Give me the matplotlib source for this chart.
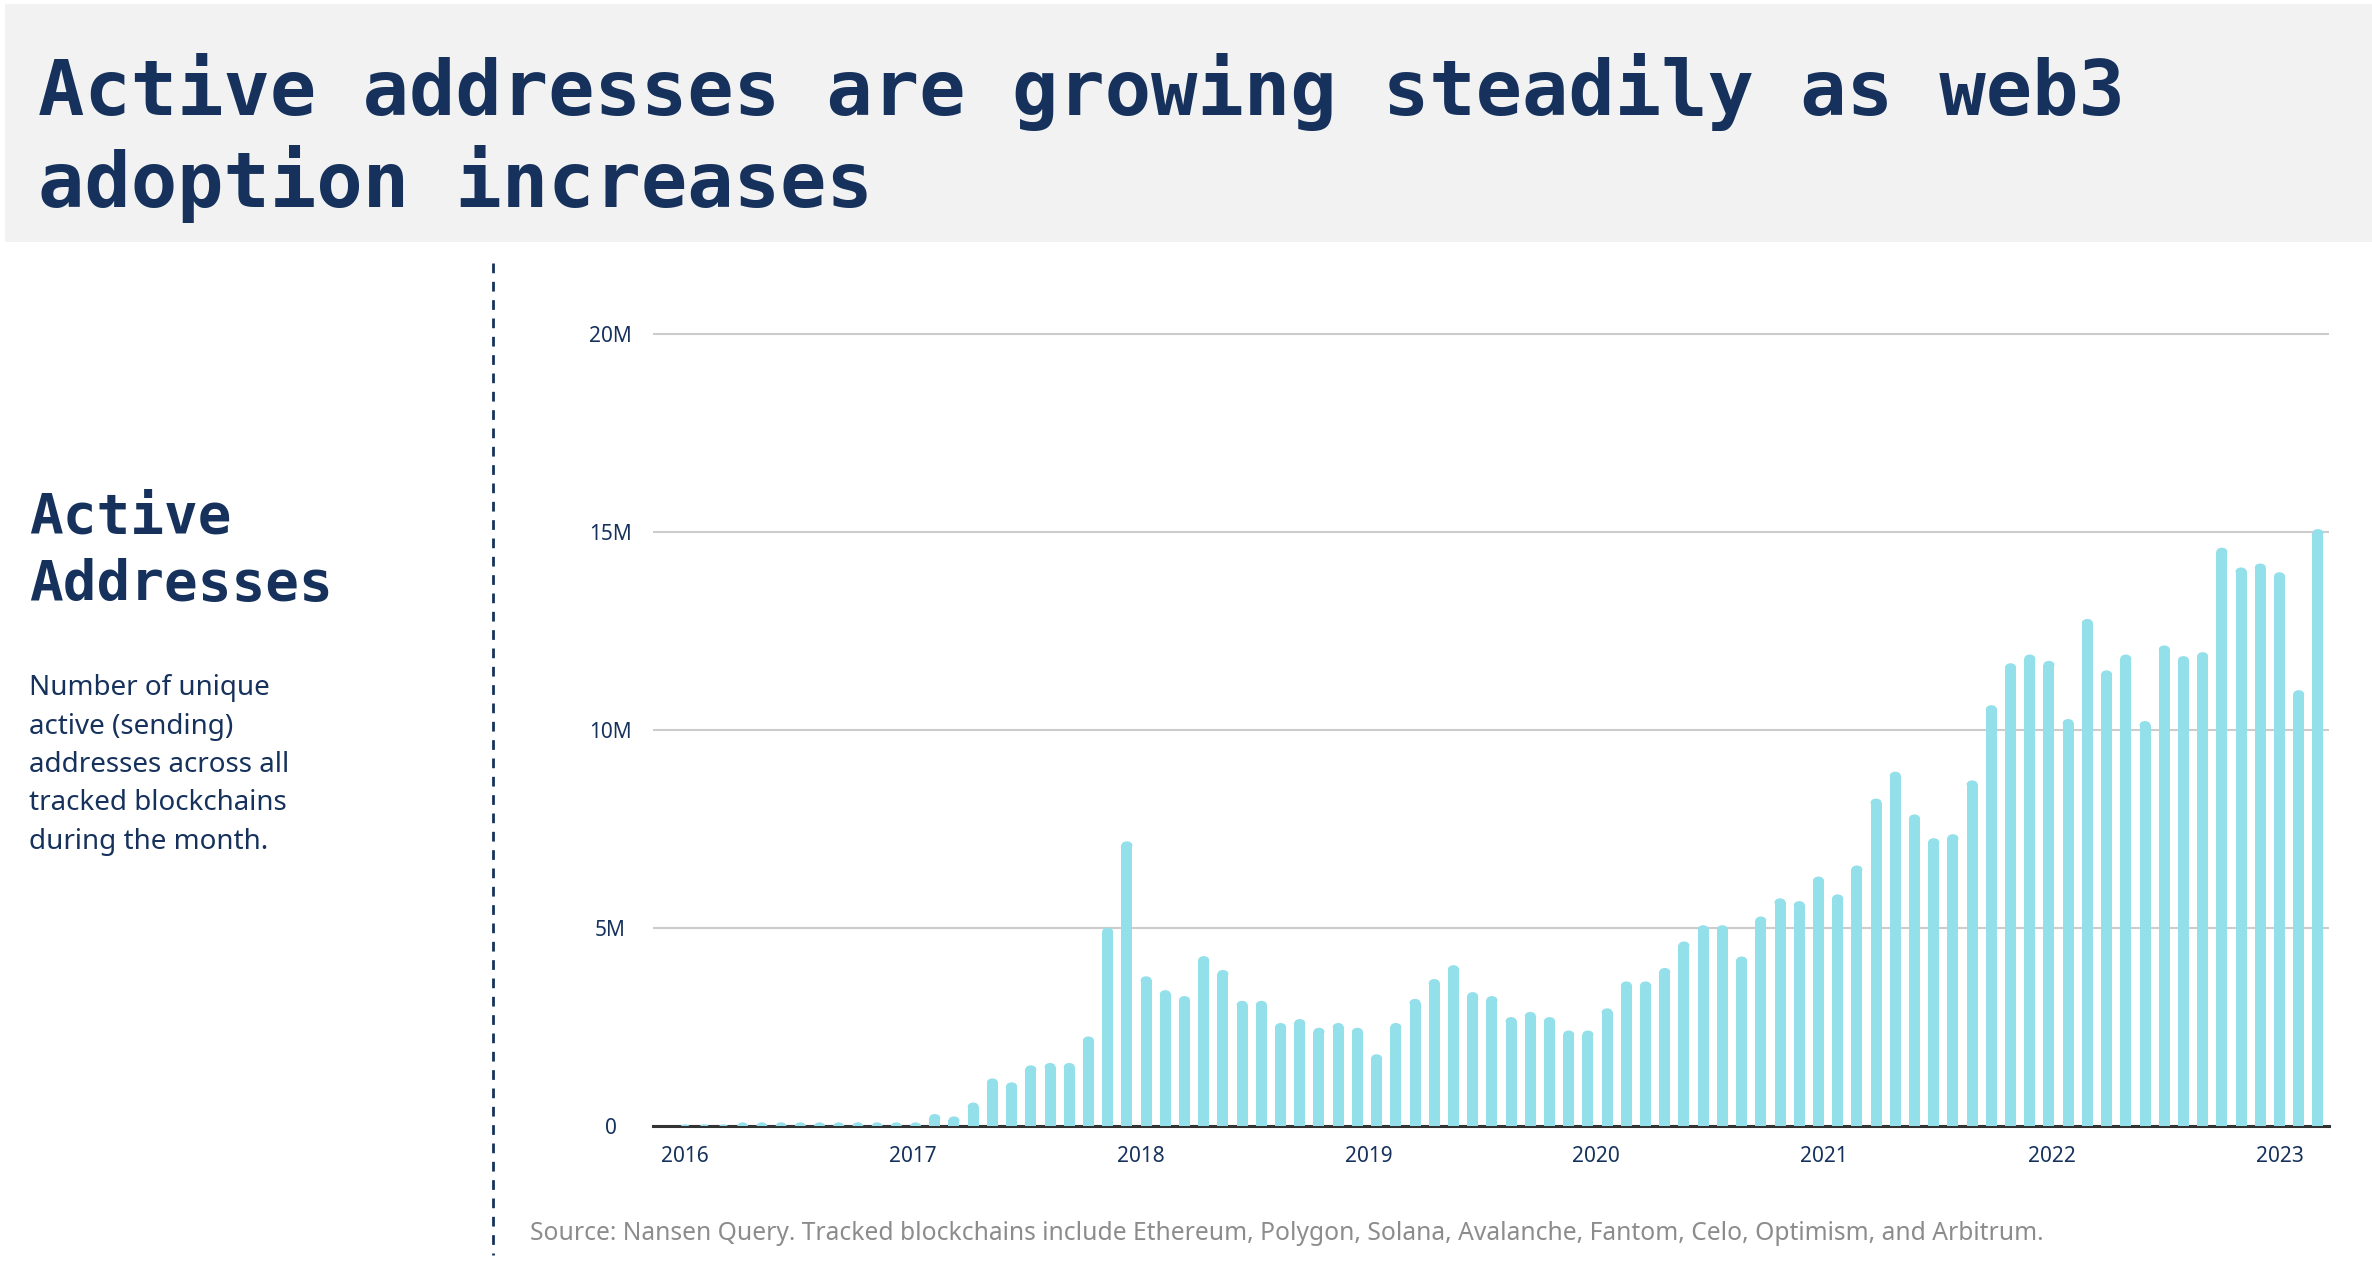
import numpy as np
import matplotlib
matplotlib.use("Agg")
import matplotlib.pyplot as plt
from matplotlib.lines import Line2D
from matplotlib.patches import Rectangle, Ellipse

# ---------------- data ----------------
months = [f"{y}-{m:02d}" for y in range(2016, 2024) for m in range(1, 13)][:86]
active_addresses_m = [
    0.03, 0.03, 0.03, 0.08, 0.08, 0.08, 0.08, 0.08, 0.08, 0.08, 0.08, 0.08,   # 2016
    0.08, 0.29, 0.23, 0.58, 1.19, 1.09, 1.52, 1.58, 1.58, 2.25, 5.00, 7.18,   # 2017
    3.77, 3.42, 3.27, 4.28, 3.93, 3.15, 3.15, 2.59, 2.69, 2.47, 2.59, 2.47,   # 2018
    1.80, 2.59, 3.20, 3.70, 4.05, 3.37, 3.27, 2.74, 2.87, 2.74, 2.40, 2.40,   # 2019
    2.96, 3.64, 3.64, 3.98, 4.65, 5.06, 5.06, 4.27, 5.28, 5.74, 5.67, 6.29,   # 2020
    5.84, 6.57, 8.26, 8.94, 7.86, 7.26, 7.36, 8.72, 10.62, 11.68, 11.90, 11.74,  # 2021
    10.27, 12.80, 11.50, 11.90, 10.22, 12.13, 11.86, 11.96, 14.60, 14.10, 14.20, 13.98,  # 2022
    11.00, 15.07,                                                              # 2023
]
year_labels = ["2016", "2017", "2018", "2019", "2020", "2021", "2022", "2023"]
y_tick_values = [0, 5, 10, 15, 20]
y_tick_labels = ["0", "5M", "10M", "15M", "20M"]

title_lines = ["Active addresses are growing steadily as web3", "adoption increases"]
side_heading = ["Active", "Addresses"]
side_text = ["Number of unique", "active (sending)", "addresses across all",
             "tracked blockchains", "during the month."]
source_text = ("Source: Nansen Query. Tracked blockchains include Ethereum, Polygon, "
               "Solana, Avalanche, Fantom, Celo, Optimism, and Arbitrum.")

# ---------------- style ----------------
W, H = 2372, 1272
NAVY = "#16325c"
BAR = "#93dfea"
GRID = "#cccccc"
BASE = "#333333"

plt.rcParams["lines.scale_dashes"] = False

fig = plt.figure(figsize=(W / 100, H / 100), dpi=100)
fig.patch.set_facecolor("white")

def fx(px):
    return px / W

def fy(py):
    return 1 - py / H

# header band
fig.patches.append(Rectangle((fx(4.5), fy(242)), 1.0, (242 - 4.5) / H,
                             transform=fig.transFigure, facecolor="#f2f2f2",
                             edgecolor="none", zorder=0))
title_baselines = [115, 207]
for line, yb in zip(title_lines, title_baselines):
    fig.text(fx(38), fy(yb), line, family="DejaVu Sans Mono", fontweight="bold",
             fontsize=55.5, color=NAVY, va="baseline", ha="left")

# side panel
for line, yb in zip(side_heading, [532.5, 600.5]):
    fig.text(fx(29), fy(yb), line, family="DejaVu Sans Mono", fontweight="bold",
             fontsize=40.3, color=NAVY, va="baseline", ha="left")
for i, line in enumerate(side_text):
    fig.text(fx(29), fy(695 + i * 38.5), line, family="Noto Sans",
             fontsize=20, color=NAVY, va="baseline", ha="left")

# dashed separator
fig.add_artist(Line2D([fx(493), fx(493)], [fy(263), fy(1255)], transform=fig.transFigure,
                      color=NAVY, lw=2, dashes=(7.0, 6.2)))

# ---------------- chart ----------------
ax_left, ax_right = 652.7, 2329.3
ax_bottom_px, ax_top_px = 1125.5, 294.4
ax = fig.add_axes([fx(ax_left), 1 - ax_bottom_px / H,
                   (ax_right - ax_left) / W, (ax_bottom_px - ax_top_px) / H])
ax.set_facecolor("none")
for s in ax.spines.values():
    s.set_visible(False)

x0, x1 = 2015.858, 2023.218
ax.set_xlim(x0, x1)
ax.set_ylim(0, 21)

px_per_year = (ax_right - ax_left) / (x1 - x0)
px_per_m = (ax_bottom_px - ax_top_px) / 21

n = len(active_addresses_m)
xpos = np.linspace(2016.0, 2023.168, n)
bar_px = 11.0
width = bar_px / px_per_year
rv = 4.0 / px_per_m          # vertical radius of the rounded top
vals = np.array(active_addresses_m)

ax.set_yticks(y_tick_values)
ax.set_yticklabels(y_tick_labels)
ax.yaxis.grid(True, color=GRID, lw=1.5)
ax.set_axisbelow(True)

ax.axhline(0, color=BASE, lw=2.2, zorder=2, clip_on=False)

ax.bar(xpos, vals - rv, width=width, bottom=0, color=BAR, linewidth=0, zorder=3)
for xv, v in zip(xpos, vals):
    ax.add_patch(Ellipse((xv, v - rv), width, 2 * rv, facecolor=BAR,
                         edgecolor="none", zorder=3))

ax.set_xticks(np.arange(2016, 2024))
ax.set_xticklabels(year_labels)
ax.tick_params(axis="x", length=0, pad=14.5, labelsize=15, labelcolor=NAVY)
ax.tick_params(axis="y", length=0, pad=30.4, labelsize=15, labelcolor=NAVY)
for lab in ax.get_yticklabels():
    lab.set_horizontalalignment("center")
    lab.set_family("Noto Sans")
for lab in ax.get_xticklabels():
    lab.set_family("Noto Sans")

fig.text(fx(529.5), fy(1233), source_text, family="Noto Sans", fontsize=17.7,
         color="#8c8c8c", va="center", ha="left")

fig.savefig("out.png", dpi=100)
